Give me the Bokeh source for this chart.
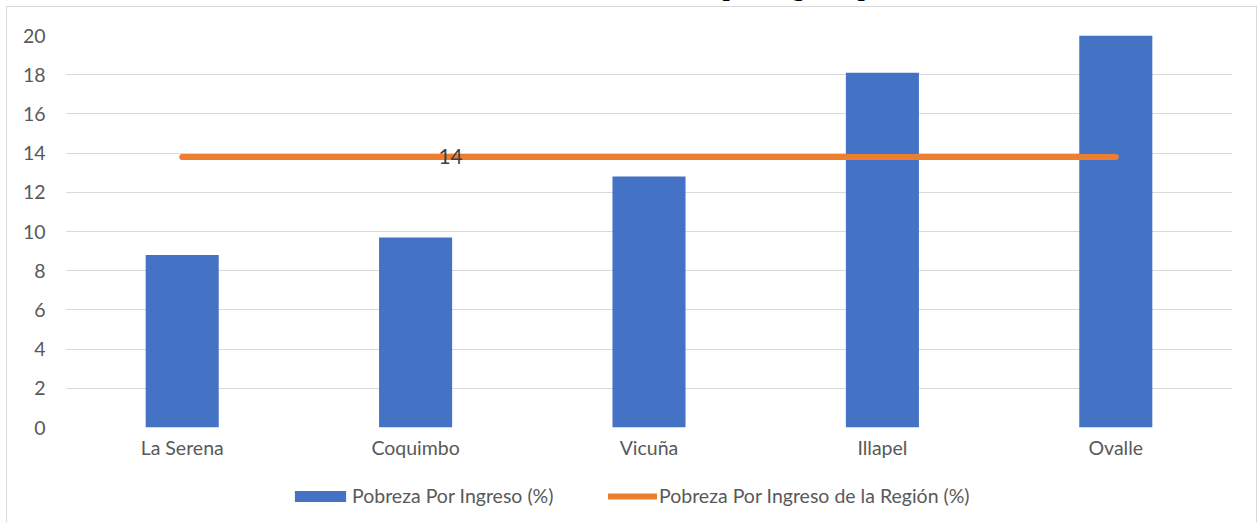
from bokeh.plotting import figure
from bokeh.models import Legend, LegendItem, Div, ColumnDataSource, Range1d
from bokeh.layouts import column
from bokeh.core.properties import value
from bokeh.embed import file_html
from bokeh.resources import INLINE

# ---- data ----
title_text = "Gráfico N° 7: % Habitantes en Pobreza por Ingreso por Comuna"
comunas = ["La Serena", "Coquimbo", "Vicuña", "Illapel", "Ovalle"]
pobreza = [8.8, 9.7, 12.8, 18.1, 20.0]
pobreza_region = [13.8, 13.8, 13.8, 13.8, 13.8]
label_comuna = ["Coquimbo"]
label_value = [13.8]
label_text = ["14"]
y_ticks = [0, 2, 4, 6, 8, 10, 12, 14, 16, 18, 20]
serie_barras = "Pobreza Por Ingreso (%)"
serie_linea = "Pobreza Por Ingreso de la Región (%)"

FONT = "Lato"
GRAY = "#595959"
BLUE = "#4472C4"
ORANGE = "#ED7D31"
BORDER = "1px solid #d9d9d9"

title_div = Div(
    text=title_text,
    width=1253,
    height=28,
    styles={
        "font-family": "Liberation Serif",
        "font-weight": "bold",
        "font-size": "26px",
        "color": "#000000",
        "text-align": "center",
        "line-height": "30px",
        "white-space": "nowrap",
    },
)

src = ColumnDataSource(dict(x=comunas, y=pobreza, r=pobreza_region))

# ---- main chart ----
p = figure(
    x_range=comunas,
    y_range=(0, 20),
    width=1251,
    height=463,
    min_border_left=58,
    min_border_right=26,
    min_border_top=28,
    min_border_bottom=43,
    output_backend="svg",
    toolbar_location=None,
    styles={"border-left": BORDER, "border-top": BORDER, "border-right": BORDER},
)
p.outline_line_color = None
p.background_fill_color = None
p.border_fill_color = None

p.vbar(x="x", top="y", width=0.313, source=src, fill_color=BLUE, line_color=None)
p.line(x="x", y="r", source=src, line_color=ORANGE, line_width=6, line_cap="round")

p.text(
    x=label_comuna, y=label_value, text=label_text,
    x_offset=35, y_offset=-1,
    text_font=value(FONT), text_font_size="21px", text_color="#404040",
    text_align="center", text_baseline="middle",
)

p.xgrid.grid_line_color = None
p.ygrid.grid_line_color = "#d9d9d9"
p.ygrid.grid_line_width = 1
p.yaxis.ticker = y_ticks

for ax in (p.xaxis[0], p.yaxis[0]):
    ax.axis_line_color = None
    ax.major_tick_line_color = None
    ax.minor_tick_line_color = None
    ax.major_tick_out = 0
    ax.major_tick_in = 0
    ax.major_label_text_font = FONT
    ax.major_label_text_font_size = "19.5px"
    ax.major_label_text_color = GRAY
p.yaxis.major_label_standoff = 20
p.xaxis.major_label_standoff = 8

# ---- legend strip (same series, drawn out of view; only the legend shows) ----
pl = figure(
    x_range=comunas,
    y_range=Range1d(100, 101),
    width=1251,
    height=53,
    min_border=0,
    x_axis_type=None,
    y_axis_type=None,
    output_backend="svg",
    toolbar_location=None,
    styles={"border-left": BORDER, "border-right": BORDER},
)
pl.outline_line_color = None
pl.background_fill_color = None
pl.border_fill_color = None
pl.grid.grid_line_color = None
lb = pl.vbar(x="x", top="y", width=0.313, source=src, fill_color=BLUE, line_color=None)
ll = pl.line(x="x", y="r", source=src, line_color=ORANGE, line_width=6, line_cap="round")

common = dict(
    orientation="horizontal",
    padding=0, margin=0, spacing=0,
    border_line_color=None, background_fill_alpha=0,
    label_text_font=FONT, label_text_font_size="19.5px", label_text_color=GRAY,
    label_text_baseline="middle",
)
leg1 = Legend(
    items=[LegendItem(label=serie_barras, renderers=[lb])],
    location=(223, 15), glyph_width=64, glyph_height=14, label_height=14,
    label_standoff=0, **common,
)
leg2 = Legend(
    items=[LegendItem(label=serie_linea, renderers=[ll])],
    location=(543, 15), glyph_width=49, glyph_height=14, label_height=14,
    label_standoff=2, **common,
)
pl.add_layout(leg1, "center")
pl.add_layout(leg2, "center")

layout = column(title_div, p, pl, styles={"margin-top": "-32px", "margin-left": "6px"}, spacing=0)

open("out.html", "w").write(file_html(layout, INLINE))
